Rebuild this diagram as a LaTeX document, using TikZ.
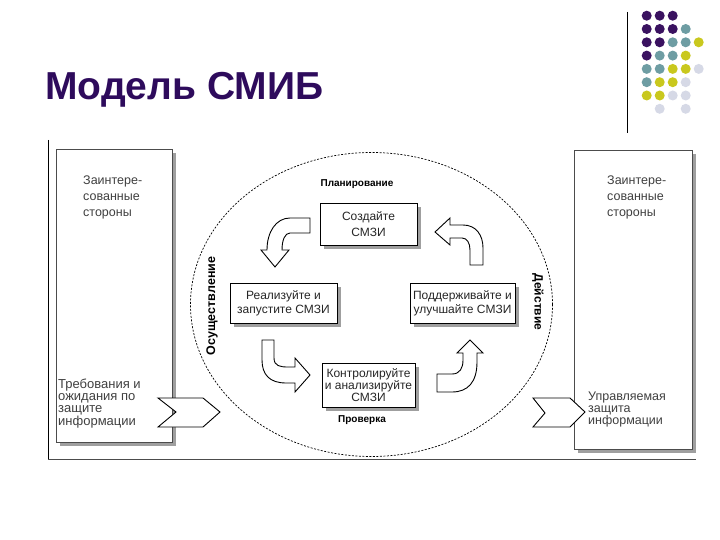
\documentclass[tikz,border=0pt]{standalone}
\usepackage{fontspec}
\setmainfont{Liberation Sans}
\usetikzlibrary{shadows}

\definecolor{titlepurple}{HTML}{2E0B5C}
\definecolor{dotP}{HTML}{3A1260}
\definecolor{dotT}{HTML}{6E9DA3}
\definecolor{dotY}{HTML}{C9C81E}
\definecolor{dotL}{HTML}{D6D9E6}

\begin{document}
\begin{tikzpicture}[x=1pt, y=-1pt,
    stepbox/.style={draw, fill=white, line width=0.8pt, inner sep=0pt, align=center, text=black!85,
        drop shadow={shadow xshift=4pt, shadow yshift=-4pt, fill=gray!75, opacity=1}},
    sidebox/.style={draw=black!70, fill=white, line width=0.8pt, inner sep=0pt,
        drop shadow={shadow xshift=4pt, shadow yshift=-4pt, fill=gray!75, opacity=1}},
    phase/.style={font=\fontsize{10}{12}\selectfont\bfseries, inner sep=0pt},
    sidetext/.style={anchor=north west, align=left, inner sep=0pt, text=black!75},
    bentarrow/.style={draw, fill=white, line width=0.9pt, line join=miter}]

    \useasboundingbox (0,0) rectangle (720,540);

    \node[anchor=base west, inner sep=0pt, font=\fontsize{39}{44}\selectfont\bfseries, text=titlepurple] (title) at (45,100) {Модель СМИБ};

    \draw[line width=1pt] (627.5,12) -- (627.5,133);

    \fill[dotP] (646.7,15.7) circle (5pt);
    \fill[dotP] (659.7,15.7) circle (5pt);
    \fill[dotP] (672.7,15.7) circle (5pt);
    \fill[dotP] (646.7,29.0) circle (5pt);
    \fill[dotP] (659.7,29.0) circle (5pt);
    \fill[dotP] (672.7,29.0) circle (5pt);
    \fill[dotT] (685.7,29.0) circle (5pt);
    \fill[dotP] (646.7,42.3) circle (5pt);
    \fill[dotP] (659.7,42.3) circle (5pt);
    \fill[dotT] (672.7,42.3) circle (5pt);
    \fill[dotT] (685.7,42.3) circle (5pt);
    \fill[dotY] (698.7,42.3) circle (5pt);
    \fill[dotP] (646.7,55.6) circle (5pt);
    \fill[dotT] (659.7,55.6) circle (5pt);
    \fill[dotT] (672.7,55.6) circle (5pt);
    \fill[dotY] (685.7,55.6) circle (5pt);
    \fill[dotT] (646.7,68.9) circle (5pt);
    \fill[dotT] (659.7,68.9) circle (5pt);
    \fill[dotY] (672.7,68.9) circle (5pt);
    \fill[dotY] (685.7,68.9) circle (5pt);
    \fill[dotL] (698.7,68.9) circle (5pt);
    \fill[dotT] (646.7,82.2) circle (5pt);
    \fill[dotY] (659.7,82.2) circle (5pt);
    \fill[dotY] (672.7,82.2) circle (5pt);
    \fill[dotL] (685.7,82.2) circle (5pt);
    \fill[dotY] (646.7,95.5) circle (5pt);
    \fill[dotY] (659.7,95.5) circle (5pt);
    \fill[dotL] (672.7,95.5) circle (5pt);
    \fill[dotL] (685.7,95.5) circle (5pt);
    \fill[dotL] (659.7,108.8) circle (5pt);
    \fill[dotL] (685.7,108.8) circle (5pt);

    \draw[line width=0.8pt] (48,140) -- (48,459);
    \draw[line width=0.8pt, black!70] (48,459) -- (696,459);

    \node[sidebox, minimum width=116pt, minimum height=293pt] (left) at (114,295.5) {};
    \node[sidebox, minimum width=118pt, minimum height=299pt] (right) at (633,299.5) {};

    \node[sidetext, font=\fontsize{12.5}{16}\selectfont] (leftparties) at (83,176) {Заинтере-\\сованные\\стороны};
    \node[sidetext, font=\fontsize{12.5}{16}\selectfont] (rightparties) at (607,176) {Заинтере-\\сованные\\стороны};
    \node[sidetext, font=\fontsize{13}{11.7}\selectfont] (demands) at (58,379) {Требования и\\ожидания по\\защите\\информации};
    \node[sidetext, font=\fontsize{12.5}{11.7}\selectfont] (managed) at (588,392) {Управляемая\\защита\\информации};

    \draw[bentarrow] (158,398) -- (203,398) -- (220,412) -- (203,427) -- (158,427) -- (176,412) -- cycle;
    \draw[bentarrow] (533,398) -- (570,398) -- (585,412) -- (570,427) -- (533,427) -- (545,413) -- cycle;

    \draw[line width=0.7pt, dash pattern=on 2pt off 1.5pt] (371.5,304.5) ellipse [x radius=181pt, y radius=152pt];

    \node[phase] (plan) at (357,184) {Планирование};
    \node[phase] (check) at (362,420) {Проверка};
    \node[phase, rotate=90, font=\fontsize{12.5}{14}\selectfont\bfseries] (do) at (212,306) {Осуществление};
    \node[phase, rotate=-90, font=\fontsize{12}{14}\selectfont\bfseries] (act) at (538,302) {Действие};

    \node[stepbox, minimum width=97pt, minimum height=42pt, font=\fontsize{12}{16}\selectfont] (create) at (368.5,224) {Создайте\\СМЗИ};
    \node[stepbox, minimum width=107pt, minimum height=40pt, font=\fontsize{12}{14}\selectfont] (implement) at (283.5,303) {Реализуйте и\\запустите СМЗИ};
    \node[stepbox, minimum width=105pt, minimum height=40pt, font=\fontsize{12}{14}\selectfont] (maintain) at (462.5,303) {Поддерживайте и\\улучшайте СМЗИ};
    \node[stepbox, minimum width=93pt, minimum height=44pt, font=\fontsize{12}{12}\selectfont] (monitor) at (368.5,385) {Контролируйте\\и анализируйте\\СМЗИ};

    \draw[bentarrow] (310,218) -- (290,218) .. controls (276,218) and (267,232) .. (267,250) -- (261,250) -- (275,267) -- (289,250) -- (282,250) .. controls (282,240) and (285,233) .. (290,233) -- (310,233) -- cycle;
    \draw[bentarrow] (435,232) -- (450,218) -- (450,225) -- (463,225) .. controls (476,225) and (483,235) .. (483,248) -- (483,265) -- (470,265) -- (470,250) .. controls (470,243) and (467,238) .. (462,238) -- (450,238) -- (450,245) -- cycle;
    \draw[bentarrow] (262,340) -- (274,340) -- (274,358) .. controls (274,366) and (280,367) .. (288,367) -- (295,367) -- (295,358) -- (310,375) -- (295,392) -- (295,383) -- (286,383) .. controls (270,383) and (262,375) .. (262,360) -- cycle;
    \draw[bentarrow] (437,374) -- (452,374) .. controls (460,374) and (463,368) .. (463,360) -- (463,353) -- (457,353) -- (470,340) -- (483,353) -- (477,353) -- (477,362) .. controls (477,382) and (468,392) .. (452,392) -- (437,392) -- cycle;

\end{tikzpicture}
\end{document}
